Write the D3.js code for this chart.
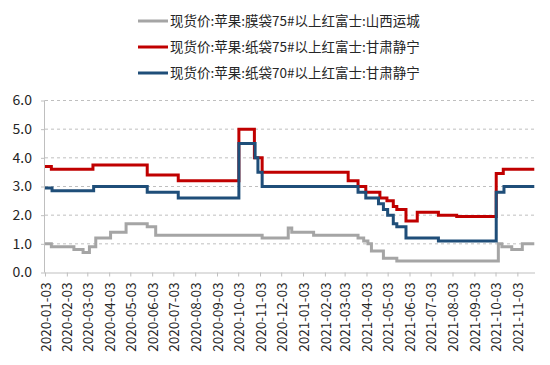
<!DOCTYPE html>
<html><head><meta charset="utf-8">
<script src="https://cdn.jsdelivr.net/npm/d3@7/dist/d3.min.js"></script>
<style>body{margin:0;background:#fff} svg{display:block}</style>
</head><body>
<svg id="chart" width="550" height="365"></svg>
<script>
const seriesNames = [
  "现货价:苹果:膜袋75#以上红富士:山西运城",
  "现货价:苹果:纸袋75#以上红富士:甘肃静宁",
  "现货价:苹果:纸袋70#以上红富士:甘肃静宁"
];
const seriesColors = ["#A5A5A5", "#C00000", "#1F4E79"];

// change-point data (date, value) of each step series
const grayDates = ["2020-01-03","2020-01-12","2020-02-13","2020-02-26","2020-03-06","2020-03-15","2020-04-05","2020-04-27","2020-05-27","2020-06-08","2020-11-06","2020-12-13","2020-12-18","2021-01-18","2021-03-22","2021-03-30","2021-04-05","2021-04-10","2021-04-27","2021-05-16","2021-10-07","2021-10-12","2021-10-26","2021-11-10"];
const grayValues = [1.0,0.9,0.8,0.7,0.9,1.2,1.4,1.7,1.6,1.3,1.2,1.55,1.4,1.3,1.2,1.1,1.0,0.75,0.5,0.4,1.0,0.9,0.8,1.0];

const redDates = ["2020-01-03","2020-01-12","2020-03-11","2020-05-27","2020-07-10","2020-10-04","2020-10-26","2020-11-06","2021-03-08","2021-03-22","2021-04-02","2021-04-22","2021-05-02","2021-05-11","2021-05-16","2021-05-29","2021-06-14","2021-07-14","2021-08-09","2021-10-04","2021-10-14"];
const redValues = [3.7,3.6,3.75,3.4,3.2,5.0,4.0,3.5,3.2,3.0,2.8,2.6,2.5,2.3,2.2,1.8,2.1,2.0,1.95,3.45,3.6];

const blueDates = ["2020-01-03","2020-01-13","2020-03-12","2020-05-27","2020-07-10","2020-10-04","2020-10-27","2020-10-31","2020-11-06","2021-03-22","2021-04-02","2021-04-20","2021-04-27","2021-05-03","2021-05-11","2021-05-16","2021-05-29","2021-07-14","2021-10-04","2021-10-15"];
const blueValues = [2.95,2.85,3.0,2.8,2.6,4.5,4.0,3.5,3.0,2.8,2.6,2.4,2.2,2.0,1.7,1.6,1.2,1.1,2.8,3.0];

const lastDate = "2021-11-27";
const xTickLabels = ["2020-01-03","2020-02-03","2020-03-03","2020-04-03","2020-05-03","2020-06-03","2020-07-03","2020-08-03","2020-09-03","2020-10-03","2020-11-03","2020-12-03","2021-01-03","2021-02-03","2021-03-03","2021-04-03","2021-05-03","2021-06-03","2021-07-03","2021-08-03","2021-09-03","2021-10-03","2021-11-03"];
const yTicks = [0,1,2,3,4,5,6];

const parse = d3.timeParse("%Y-%m-%d");
const font = "'Microsoft YaHei','Noto Sans CJK SC',sans-serif";
const svg = d3.select("#chart");

const x = d3.scaleTime().domain([parse("2020-01-03"), parse("2021-11-28")]).range([45, 535]);
const y = d3.scaleLinear().domain([0, 6]).range([272.5, 100.5]);

// gridlines
svg.append("g").selectAll("line").data(yTicks.filter(d => d > 0)).join("line")
  .attr("x1", x.range()[0]).attr("x2", x.range()[1])
  .attr("y1", d => y(d)).attr("y2", d => y(d))
  .attr("stroke", "#BFBFBF").attr("stroke-width", 1).attr("stroke-dasharray", "3,3");

// y axis
const yAxis = svg.append("g").attr("transform", `translate(${x.range()[0]},0)`)
  .call(d3.axisLeft(y).tickValues(yTicks).tickFormat(d3.format(".1f")).tickSize(4).tickPadding(9));
yAxis.select(".domain").attr("stroke", "#BFBFBF").attr("d", `M-0.5,${y(0)}V${y(6)}`);
yAxis.selectAll(".tick line").attr("stroke", "#BFBFBF");
yAxis.selectAll("text").attr("font-family", font).attr("font-size", 14).attr("fill", "#262626");

// x axis
const xAxis = svg.append("g").attr("transform", `translate(0,${y(0)})`)
  .call(d3.axisBottom(x).tickValues(xTickLabels.map(parse)).tickFormat(d3.timeFormat("%Y-%m-%d")).tickSize(4));
xAxis.select(".domain").attr("stroke", "#BFBFBF").attr("d", `M${x.range()[0]},0.5H${x.range()[1]}`);
xAxis.selectAll(".tick line").attr("stroke", "#BFBFBF");
xAxis.selectAll("text")
  .attr("font-family", font).attr("font-size", 13.5).attr("fill", "#262626")
  .attr("transform", "rotate(-90)").attr("text-anchor", "end")
  .attr("x", -10).attr("y", 0).attr("dy", "0.38em");

// series
const series = [
  {dates: grayDates, values: grayValues},
  {dates: redDates, values: redValues},
  {dates: blueDates, values: blueValues}
];
const line = d3.line().x(d => x(d.date)).y(d => y(d.value)).curve(d3.curveStepAfter);
series.forEach((s, i) => {
  const pts = s.dates.map((d, j) => ({date: parse(d), value: s.values[j]}));
  pts.push({date: parse(lastDate), value: s.values[s.values.length - 1]});
  svg.append("path").datum(pts)
    .attr("fill", "none").attr("stroke", seriesColors[i]).attr("stroke-width", 3)
    .attr("stroke-linejoin", "miter").attr("d", line);
});

// legend
const legend = svg.append("g");
seriesNames.forEach((name, i) => {
  const ly = 21 + i * 26;
  legend.append("line").attr("x1", 138).attr("x2", 168).attr("y1", ly).attr("y2", ly)
    .attr("stroke", seriesColors[i]).attr("stroke-width", 3);
  legend.append("text").attr("x", 170).attr("y", ly).attr("dy", "0.35em")
    .attr("font-family", font).attr("font-size", 13.5).attr("fill", "#262626").text(name);
});
</script>
</body></html>
